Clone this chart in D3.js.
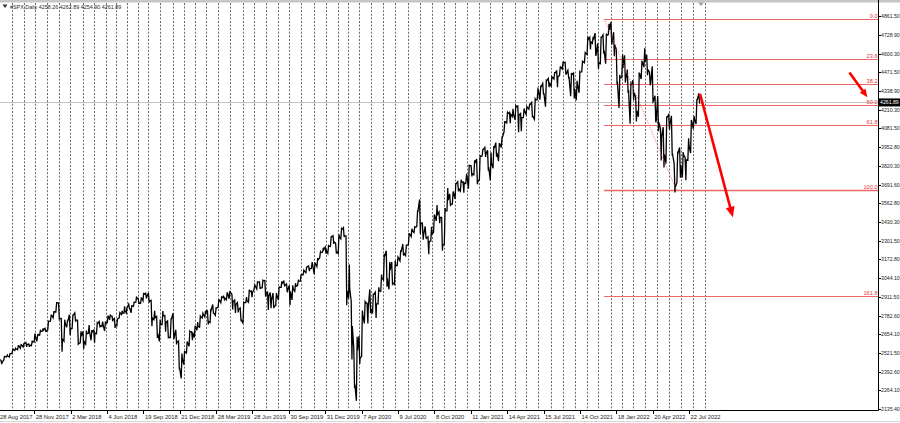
<!DOCTYPE html>
<html><head><meta charset="utf-8">
<script src="https://cdn.jsdelivr.net/npm/d3@7"></script>
<style>body{margin:0;background:#fff}svg{display:block}</style>
</head><body>
<svg id="c" width="900" height="423"></svg>
<script>
// ---------- DATA ----------
const symbolTitle = "#SPX,Daily";
const ohlcTitle = ["4258.26", "4262.89", "4254.90", "4261.89"];
const lastPrice = 4261.89;

const timeLabelDates = ["2017-08-28","2017-11-28","2018-03-02","2018-06-04","2018-09-19","2018-12-21","2019-03-28","2019-06-28","2019-09-30","2019-12-31","2020-04-07","2020-07-09","2020-10-08","2021-01-11","2021-04-14","2021-07-15","2021-10-14","2022-01-18","2022-04-20","2022-07-22"];
const timeLabelTexts = ["28 Aug 2017","28 Nov 2017","2 Mar 2018","4 Jun 2018","19 Sep 2018","21 Dec 2018","28 Mar 2019","28 Jun 2019","30 Sep 2019","31 Dec 2019","7 Apr 2020","9 Jul 2020","8 Oct 2020","11 Jan 2021","14 Apr 2021","15 Jul 2021","14 Oct 2021","18 Jan 2022","20 Apr 2022","22 Jul 2022"];
const priceTicks = [4861.50,4728.90,4600.30,4471.50,4338.90,4210.30,4081.50,3952.80,3820.30,3691.60,3562.80,3430.30,3301.50,3172.80,3044.10,2911.50,2782.60,2654.10,2521.50,2392.60,2264.10,2135.40];

// weekly [high, low, close], first Friday of each block given
const w2017start = "2017-08-25";
const w2017 = [[2454,2417,2443],[2480,2428,2477],[2474,2446,2461],[2500,2474,2500],[2509,2496,2502],[2520,2496,2519],[2552,2520,2549],[2557,2541,2553],[2575,2547,2575],[2582,2557,2581],[2588,2566,2588],[2597,2566,2582],[2587,2566,2579],[2605,2575,2602],[2658,2600,2642],[2651,2605,2652],[2679,2647,2675],[2695,2676,2683],[2695,2673,2674]];
const w2018start = "2018-01-05";
const w2018 = [[2745,2683,2743],[2787,2744,2786],[2810,2768,2810],[2873,2808,2873],[2870,2759,2762],[2763,2533,2620],[2755,2606,2732],[2747,2702,2747],[2789,2647,2691],[2786,2694,2786],[2802,2741,2752],[2752,2585,2588],[2674,2594,2641],[2673,2553,2604],[2680,2586,2656],[2717,2660,2670],[2683,2612,2670],[2682,2595,2663],[2732,2658,2728],[2743,2701,2713],[2742,2707,2721],[2737,2676,2735],[2779,2734,2779],[2791,2755,2780],[2780,2744,2755],[2764,2698,2718],[2760,2712,2760],[2804,2767,2801],[2816,2791,2802],[2848,2800,2819],[2840,2802,2840],[2863,2834,2833],[2856,2802,2850],[2876,2848,2875],[2916,2876,2902],[2902,2864,2872],[2906,2868,2905],[2941,2886,2930],[2939,2903,2914],[2940,2874,2886],[2889,2710,2767],[2816,2755,2768],[2778,2628,2659],[2756,2604,2723],[2815,2722,2781],[2784,2671,2736],[2746,2631,2633],[2760,2631,2760],[2800,2621,2633],[2685,2583,2600],[2607,2409,2417],[2520,2347,2486]];
const w2019start = "2019-01-04";
const w2019 = [[2538,2443,2532],[2604,2524,2596],[2675,2570,2671],[2672,2612,2665],[2708,2631,2707],[2738,2682,2708],[2780,2703,2776],[2800,2767,2793],[2817,2774,2804],[2816,2722,2743],[2830,2735,2822],[2860,2800,2800],[2836,2785,2834],[2893,2840,2893],[2911,2873,2907],[2917,2896,2905],[2940,2893,2940],[2955,2900,2946],[2931,2825,2881],[2892,2801,2860],[2874,2805,2826],[2837,2750,2752],[2876,2728,2873],[2911,2873,2887],[2964,2876,2950],[2955,2911,2942],[2996,2965,2990],[3017,2968,3014],[3017,2969,2977],[3028,2976,3026],[3027,2914,2932],[2945,2822,2919],[2943,2834,2889],[2939,2835,2847],[2940,2853,2926],[2985,2891,2979],[3021,2979,3007],[3022,2990,2992],[3003,2945,2962],[2992,2855,2952],[2993,2892,2970],[3008,2952,2986],[3027,2992,3023],[3067,3023,3067],[3098,3066,3093],[3120,3080,3120],[3128,3091,3110],[3154,3111,3141],[3148,3070,3146],[3182,3123,3169],[3226,3184,3221],[3247,3223,3240]];
const w2020start = "2020-01-03";
const w2020 = [[3259,3212,3235],[3268,3215,3265],[3330,3263,3330],[3338,3280,3295],[3285,3214,3226],[3347,3214,3328],[3385,3316,3380],[3393,3328,3338],[3337,2855,2954],[3137,2902,2972],[2883,2478,2711],[2553,2281,2305],[2637,2192,2541],[2641,2447,2489],[2818,2500,2790],[2880,2729,2875],[2870,2728,2837],[2965,2800,2831],[2936,2798,2930],[2945,2767,2864],[2980,2865,2955],[3068,2951,3044],[3211,3032,3194],[3233,2984,3041],[3155,2965,3098],[3155,3004,3009],[3166,2999,3130],[3190,3130,3185],[3238,3163,3225],[3280,3199,3216],[3272,3200,3271],[3352,3275,3351],[3387,3331,3373],[3399,3360,3397],[3509,3400,3508],[3588,3349,3427],[3425,3310,3341],[3402,3328,3319],[3330,3209,3298],[3399,3300,3348],[3485,3362,3477],[3550,3440,3484],[3502,3425,3465],[3465,3233,3270],[3529,3280,3510],[3668,3510,3585],[3628,3543,3558],[3644,3557,3638],[3699,3594,3699],[3712,3645,3663],[3726,3647,3709],[3711,3636,3703]];
const w2021start = "2021-01-01";
const w2021 = [[3760,3699,3756],[3826,3663,3825],[3823,3749,3768],[3861,3760,3841],[3870,3694,3714],[3895,3725,3887],[3934,3890,3934],[3950,3884,3907],[3930,3789,3811],[3914,3723,3842],[3960,3805,3943],[3983,3885,3913],[3976,3854,3975],[4021,3950,4020],[4129,4056,4129],[4191,4120,4185],[4194,4118,4180],[4218,4164,4181],[4238,4142,4233],[4237,4056,4174],[4185,4062,4156],[4220,4156,4204],[4234,4179,4230],[4249,4215,4247],[4262,4164,4166],[4286,4145,4281],[4356,4280,4352],[4372,4281,4370],[4393,4318,4327],[4415,4233,4412],[4429,4368,4395],[4440,4375,4437],[4468,4425,4468],[4480,4367,4442],[4509,4446,4509],[4545,4494,4535],[4541,4458,4459],[4485,4432,4433],[4466,4305,4455],[4465,4289,4357],[4412,4278,4391],[4475,4329,4471],[4552,4474,4545],[4608,4537,4605],[4718,4595,4698],[4714,4630,4683],[4717,4672,4698],[4743,4585,4595],[4672,4495,4538],[4713,4531,4712],[4731,4600,4621],[4740,4531,4726],[4808,4733,4766]];
const w2022start = "2022-01-07";
const w2022 = [[4819,4663,4677],[4749,4582,4663],[4632,4395,4398],[4453,4223,4432],[4595,4435,4501],[4589,4401,4419],[4490,4327,4349],[4390,4115,4385],[4416,4279,4329],[4300,4129,4204],[4465,4162,4463],[4546,4424,4543],[4637,4507,4546],[4593,4450,4488],[4471,4381,4393],[4513,4267,4272],[4308,4125,4132],[4307,4063,4123],[4081,3859,4024],[4090,3810,3901],[4159,3838,4158],[4177,4074,4109],[4169,3900,3901],[3838,3637,3675],[3914,3705,3912],[3950,3740,3825],[3918,3742,3899],[3880,3722,3863],[4013,3860,3962],[4140,3911,4130],[4167,4079,4145],[4280,4112,4280],[4325,4255,4262]];

// Fibonacci retracement
const fibLevels = [0, 23.6, 38.2, 50, 61.8, 100, 161.8];
const fibHigh = 4840.7, fibLow = 3652.4;
const fibStartDate = "2021-12-17", fibEndDate = "2022-06-20";

// red arrows (date, price)
const arrows = [
  {from: ["2022-08-19", 4322], to: ["2022-11-11", 3466], head: 9},
  {from: ["2023-09-05", 4470], to: ["2023-10-21", 4298], head: 7}
];

// ---------- DRAW ----------
const parse = d3.timeParse("%Y-%m-%d");
const svg = d3.select("#c");
const W = 900, H = 423;
const plotR = 878, plotB = 410, plotT = 3;
const x0 = -2.2, step = 36.38;

const labelDates = timeLabelDates.map(parse);
const x = d3.scaleTime().domain(labelDates).range(labelDates.map((d, i) => x0 + i * step));
const y = d3.scaleLinear().domain([2135.4, 4861.5]).range([409, 16]);

svg.append("rect").attr("width", W).attr("height", H).attr("fill", "#fff");

const defs = svg.append("defs");
defs.append("clipPath").attr("id", "plot").append("rect")
  .attr("x", 0).attr("y", plotT).attr("width", plotR).attr("height", plotB - plotT);

function block(start, arr) {
  const s = parse(start);
  return arr.map((v, i) => ({date: d3.timeWeek.offset(s, i), h: v[0], l: v[1], c: v[2]}));
}
const weeks = [].concat(block(w2017start, w2017), block(w2018start, w2018), block(w2019start, w2019),
  block(w2020start, w2020), block(w2021start, w2021), block(w2022start, w2022));

const lastDate = weeks[weeks.length - 1].date;
const months = d3.timeMonth.range(parse("2017-09-01"), d3.timeMonth.offset(lastDate, 1)).map(d => {
  const g = d.getDay();
  return g === 6 ? d3.timeDay.offset(d, 2) : g === 0 ? d3.timeDay.offset(d, 1) : d;
});

const g = svg.append("g").attr("clip-path", "url(#plot)");

g.selectAll("line.sep").data(months).join("line").attr("class", "sep")
  .attr("x1", d => Math.round(x(d)) + 0.5).attr("x2", d => Math.round(x(d)) + 0.5)
  .attr("y1", plotT).attr("y2", plotB)
  .attr("stroke", "#6a6a6a").attr("stroke-width", 1).attr("stroke-dasharray", "2,1.6");

g.append("line").attr("x1", 0).attr("x2", plotR)
  .attr("y1", Math.round(y(lastPrice)) + 0.5).attr("y2", Math.round(y(lastPrice)) + 0.5)
  .attr("stroke", "#c4c4c4").attr("stroke-width", 1);

const fibX1 = x(parse(fibStartDate)), fibX2 = x(parse(fibEndDate));
const fibPrice = l => fibHigh - l / 100 * (fibHigh - fibLow);
g.selectAll("line.fib").data(fibLevels).join("line").attr("class", "fib")
  .attr("x1", fibX1).attr("x2", plotR)
  .attr("y1", d => Math.round(y(fibPrice(d))) + 0.5).attr("y2", d => Math.round(y(fibPrice(d))) + 0.5)
  .attr("stroke", "#ee6666").attr("stroke-width", d => d === 100 ? 1.5 : 1);

const pts = [];
weeks.forEach((w, i) => {
  const up = i === 0 ? true : w.c >= weeks[i - 1].c;
  const a = up ? w.l : w.h, b = up ? w.h : w.l;
  pts.push([x(d3.timeDay.offset(w.date, -3)), y(a)]);
  pts.push([x(d3.timeDay.offset(w.date, -1)), y(b)]);
  pts.push([x(w.date), y(w.c)]);
});
g.append("path").attr("d", d3.line()(pts)).attr("fill", "none")
  .attr("stroke", "#000").attr("stroke-width", 1.3).attr("stroke-linejoin", "miter");

g.append("line").attr("x1", fibX1).attr("y1", y(fibHigh)).attr("x2", fibX2).attr("y2", y(fibLow))
  .attr("stroke", "#f06060").attr("stroke-width", 1).attr("stroke-dasharray", "1,1.5");

const fontFam = "Liberation Sans, Arial, sans-serif";
svg.selectAll("text.fib").data(fibLevels).join("text").attr("class", "fib")
  .attr("x", 877.5).attr("y", d => Math.round(y(fibPrice(d))) - 1)
  .attr("text-anchor", "end").attr("fill", "#e53535")
  .attr("font-family", fontFam).attr("font-size", 5.6)
  .text(d => d3.format(".1f")(d));

arrows.forEach(a => {
  const p1 = [x(parse(a.from[0])), y(a.from[1])], p2 = [x(parse(a.to[0])), y(a.to[1])];
  const ang = Math.atan2(p2[1] - p1[1], p2[0] - p1[0]);
  const L = a.head * 1.15, Wd = a.head * 0.5;
  const bx = p2[0] - L * Math.cos(ang), by = p2[1] - L * Math.sin(ang);
  svg.append("line").attr("x1", p1[0]).attr("y1", p1[1]).attr("x2", bx + Math.cos(ang)).attr("y2", by + Math.sin(ang))
    .attr("stroke", "#ff0000").attr("stroke-width", 2.6);
  const nx = -Math.sin(ang), ny = Math.cos(ang);
  svg.append("path").attr("d", `M${p2[0]},${p2[1]}L${bx + nx * Wd},${by + ny * Wd}L${bx - nx * Wd},${by - ny * Wd}Z`)
    .attr("fill", "#ff0000");
});

svg.append("rect").attr("x", 0).attr("y", 0).attr("width", W).attr("height", 2.5).attr("fill", "#c6c6c6");
const shiftX = x(lastDate) + 1;
svg.append("path").attr("d", `M${shiftX - 3},2.5L${shiftX + 3},2.5L${shiftX},6Z`).attr("fill", "#a0a0a0");

svg.append("line").attr("x1", plotR + 0.5).attr("x2", plotR + 0.5).attr("y1", 0).attr("y2", plotB + 0.5)
  .attr("stroke", "#000").attr("stroke-width", 1);
svg.append("line").attr("x1", 0).attr("x2", plotR + 0.5).attr("y1", plotB + 0.5).attr("y2", plotB + 0.5)
  .attr("stroke", "#000").attr("stroke-width", 1);

svg.selectAll("line.pt").data(priceTicks).join("line").attr("class", "pt")
  .attr("x1", plotR + 1).attr("x2", plotR + 3)
  .attr("y1", d => Math.round(y(d)) + 0.5).attr("y2", d => Math.round(y(d)) + 0.5)
  .attr("stroke", "#000");
svg.selectAll("text.pt").data(priceTicks).join("text").attr("class", "pt")
  .attr("x", 881).attr("y", d => y(d) + 2)
  .attr("fill", "#222").attr("font-family", fontFam).attr("font-size", 5.2)
  .text(d => d3.format(".2f")(d));

const ly = y(lastPrice);
svg.append("rect").attr("x", 879).attr("y", ly - 4).attr("width", 21).attr("height", 8).attr("fill", "#000");
svg.append("text").attr("x", 880).attr("y", ly + 2).attr("fill", "#fff")
  .attr("font-family", fontFam).attr("font-size", 5.2).text(d3.format(".2f")(lastPrice));

svg.selectAll("line.tt").data(labelDates).join("line").attr("class", "tt")
  .attr("x1", d => Math.round(x(d)) + 0.5).attr("x2", d => Math.round(x(d)) + 0.5)
  .attr("y1", plotB + 1).attr("y2", plotB + 4).attr("stroke", "#000");
svg.selectAll("text.tt").data(labelDates).join("text").attr("class", "tt")
  .attr("x", d => Math.max(0, x(d) + 1.6)).attr("y", 419)
  .attr("fill", "#222").attr("font-family", fontFam).attr("font-size", 5.8)
  .text((d, i) => timeLabelTexts[i]);

svg.append("rect").attr("x", 0).attr("y", 421).attr("width", W).attr("height", 1).attr("fill", "#d8d8d8");

svg.append("path").attr("d", "M2.5,4.5L7.5,4.5L5,8Z").attr("fill", "#333");
svg.append("text").attr("x", 10).attr("y", 8.6).attr("fill", "#2a2a2a")
  .attr("font-family", fontFam).attr("font-size", 5.4)
  .text(symbolTitle + "  " + ohlcTitle.join(" "));
</script>
</body></html>
